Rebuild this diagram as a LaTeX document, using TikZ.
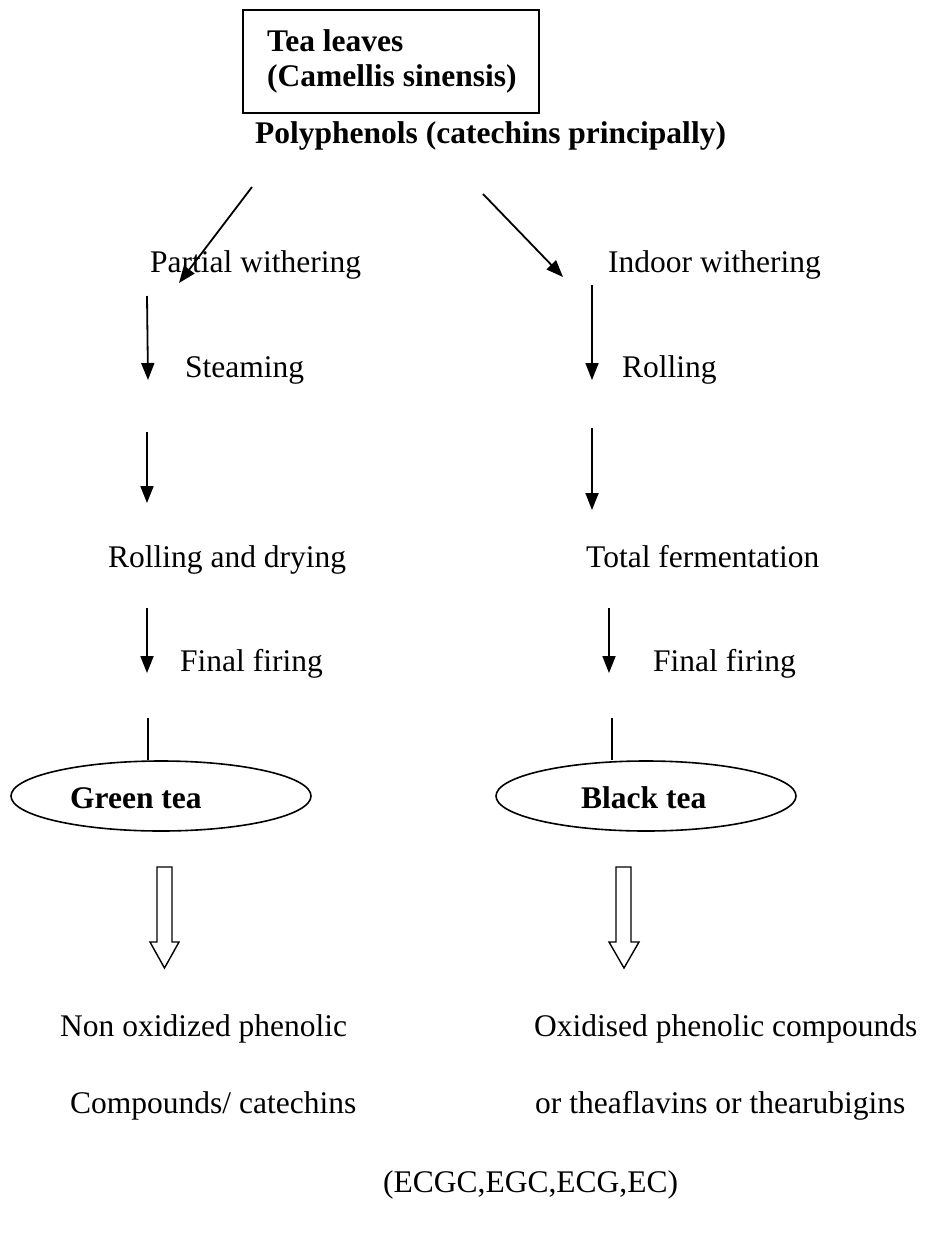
\documentclass[tikz,border=0pt]{standalone}
\usepackage{fontspec}
\setmainfont{Liberation Serif}
\usetikzlibrary{arrows.meta,shapes.geometric}
\begin{document}
\begin{tikzpicture}[x=1pt,y=-1pt,
  txt/.style={anchor=base west,inner sep=0pt,font=\fontsize{31.5}{38}\selectfont},
  btxt/.style={txt,font=\fontsize{31.5}{38}\selectfont\bfseries},
  arr/.style={line width=1.8pt,-{Triangle[length=17pt,width=13pt]}},
  ln/.style={line width=1.8pt},
  oval/.style={draw,ellipse,line width=1.6pt,minimum width=300pt,minimum height=70pt,inner sep=0pt},
  hollow/.style={draw,line width=1.4pt,fill=white}]
\useasboundingbox (0,0) rectangle (926,1239);
% top box
\node[draw,line width=1.4pt,minimum width=296pt,minimum height=103pt,inner sep=0pt] (box) at (391,61.5) {};
\node[btxt] (t1) at (267,52) {Tea leaves};
\node[btxt] (t2) at (267,86) {(Camellis sinensis)};
\node[btxt] (poly) at (255,143) {Polyphenols (catechins principally)};
% level 1
\node[txt] (pw) at (150,272) {Partial withering};
\node[txt] (iw) at (608,272) {Indoor withering};
\coordinate (dl1) at (252,187); \coordinate (dl2) at (179,283);
\coordinate (dr1) at (483,194); \coordinate (dr2) at (563,277);
\draw[arr] (dl1) -- (dl2);
\draw[arr] (dr1) -- (dr2);
% level 2
\node[txt] (st) at (185,377) {Steaming};
\node[txt] (ro) at (622,377) {Rolling};
\coordinate (a1s) at (147,296); \coordinate (a1e) at (148,380);
\coordinate (b1s) at (592,285); \coordinate (b1e) at (592,380);
\draw[arr] (a1s) -- (a1e);
\draw[arr] (b1s) -- (b1e);
% level 3
\coordinate (a2s) at (147,432); \coordinate (a2e) at (147,503);
\coordinate (b2s) at (592,428); \coordinate (b2e) at (592,510);
\draw[arr] (a2s) -- (a2e);
\draw[arr] (b2s) -- (b2e);
\node[txt] (rd) at (108,567) {Rolling and drying};
\node[txt] (tf) at (586,567) {Total fermentation};
% level 4
\coordinate (a3s) at (147,608); \coordinate (a3e) at (147,673);
\coordinate (b3s) at (609,608); \coordinate (b3e) at (609,673);
\draw[arr] (a3s) -- (a3e);
\draw[arr] (b3s) -- (b3e);
\node[txt] (ff1) at (180,671) {Final firing};
\node[txt] (ff2) at (653,671) {Final firing};
% ellipses
\node[oval] (gt) at (161,796) {};
\node[oval] (bt) at (646,796) {};
\node[btxt] (gtt) at (70,808) {Green tea};
\node[btxt] (btt) at (581,808) {Black tea};
\coordinate (l1) at (148,718); \coordinate (l2) at (612,718);
\draw[ln] (l1) -- (l1 |- gt.north);
\draw[ln] (l2) -- (l2 |- bt.north);
% hollow arrows
\draw[hollow] (157,867) -- (172,867) -- (172,942) -- (179,942) -- (164.5,968) -- (150,942) -- (157,942) -- cycle;
\draw[hollow] (616,867) -- (631,867) -- (631,942) -- (639,942) -- (624,968) -- (609,942) -- (616,942) -- cycle;
% bottom texts
\node[txt] (no) at (60,1036) {Non oxidized phenolic};
\node[txt] (cc) at (70,1113) {Compounds/ catechins};
\node[txt] (ox) at (534,1036) {Oxidised phenolic compounds};
\node[txt] (th) at (535,1113) {or theaflavins or thearubigins};
\node[txt] (ec) at (383,1192) {(ECGC,EGC,ECG,EC)};
\end{tikzpicture}
\end{document}
